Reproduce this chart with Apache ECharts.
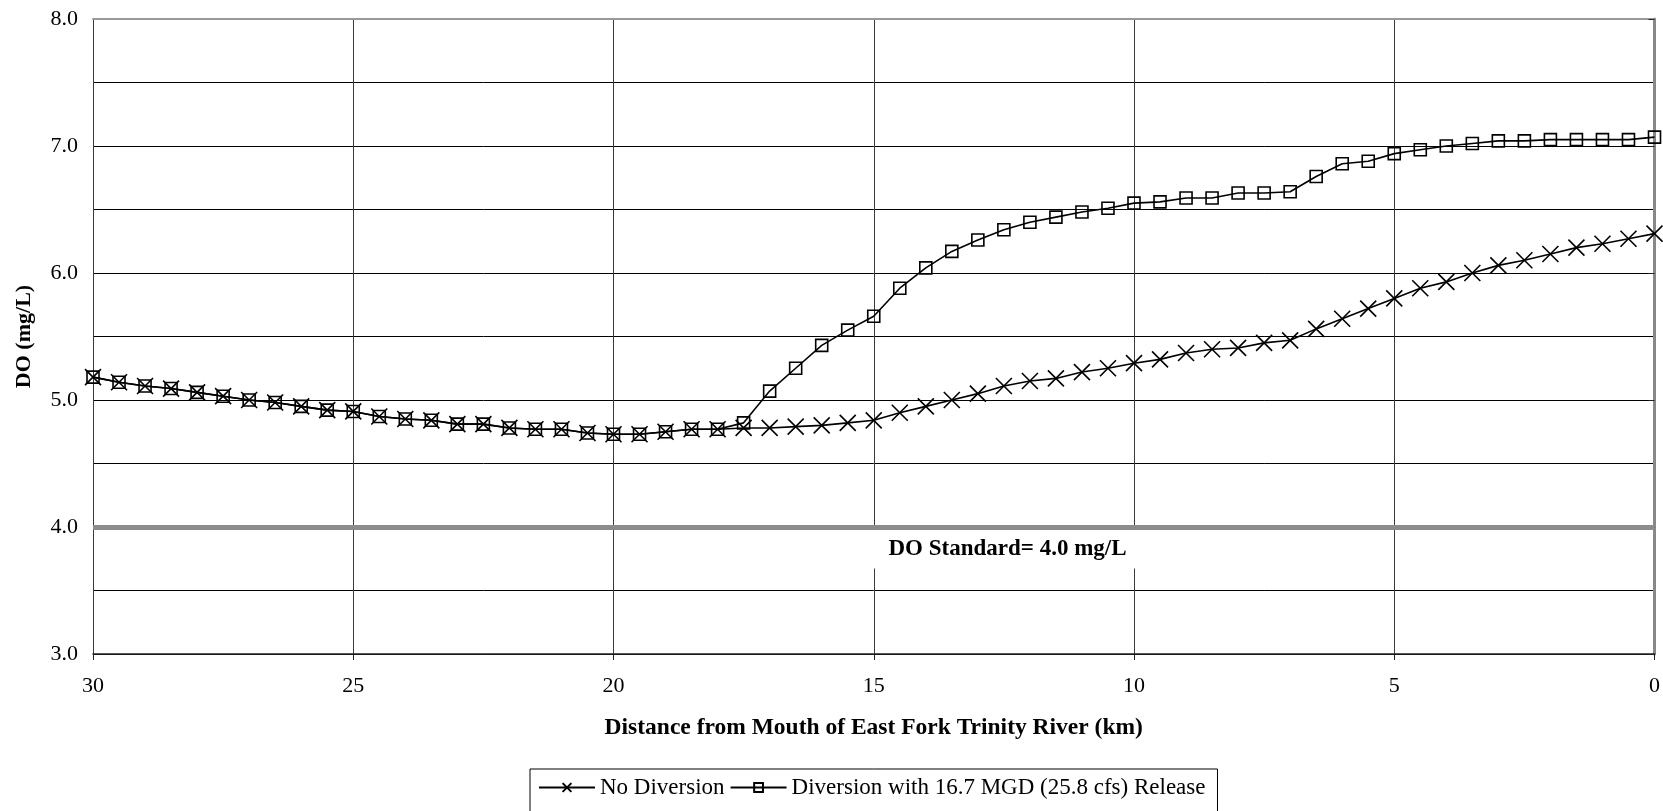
<!DOCTYPE html>
<html><head><meta charset="utf-8">
<script src="https://cdn.jsdelivr.net/npm/echarts@6/dist/echarts.min.js"></script>
<style>html,body{margin:0;padding:0;background:#fff}#c{width:1663px;height:811px}</style>
</head><body><div id="c"></div>
<script>
const distances = [30,29.5,29,28.5,28,27.5,27,26.5,26,25.5,25,24.5,24,23.5,23,22.5,22,21.5,21,20.5,20,19.5,19,18.5,18,17.5,17,16.5,16,15.5,15,14.5,14,13.5,13,12.5,12,11.5,11,10.5,10,9.5,9,8.5,8,7.5,7,6.5,6,5.5,5,4.5,4,3.5,3,2.5,2,1.5,1,0.5,0];
const noDiversion = [5.18,5.14,5.11,5.09,5.06,5.03,5.00,4.98,4.95,4.92,4.91,4.87,4.85,4.84,4.81,4.81,4.78,4.77,4.77,4.74,4.73,4.73,4.75,4.77,4.77,4.78,4.78,4.79,4.80,4.82,4.84,4.90,4.95,5.00,5.05,5.11,5.15,5.17,5.22,5.25,5.29,5.32,5.37,5.40,5.41,5.45,5.47,5.56,5.64,5.72,5.80,5.88,5.93,6.00,6.06,6.10,6.15,6.20,6.23,6.27,6.31];
const diversion = [5.18,5.14,5.11,5.09,5.06,5.03,5.00,4.98,4.95,4.92,4.91,4.87,4.85,4.84,4.81,4.81,4.78,4.77,4.77,4.74,4.73,4.73,4.75,4.77,4.77,4.82,5.07,5.25,5.43,5.55,5.66,5.88,6.04,6.17,6.26,6.34,6.40,6.44,6.48,6.51,6.55,6.56,6.59,6.59,6.63,6.63,6.64,6.76,6.86,6.88,6.94,6.97,7.00,7.02,7.04,7.04,7.05,7.05,7.05,7.05,7.07];
const seriesNames = ['No Diversion','Diversion with 16.7 MGD (25.8 cfs) Release'];
const doStandard = 4.0;
const standardLabel = 'DO Standard= 4.0 mg/L';
const standardLabelPos = [12.43, 3.83];
const xTitle = 'Distance from Mouth of East Fork Trinity River (km)';
const yTitle = 'DO (mg/L)';

const FONT = '"Liberation Serif", "Times New Roman", serif';
const pairs = arr => distances.map((d,i)=>[d, arr[i]]);
const chart = echarts.init(document.getElementById('c'), null, {renderer:'canvas'});
const crossPath = 'path://M0,0L10,10M10,0L0,10';
chart.setOption({
  animation:false,
  backgroundColor:'#fff',
  textStyle:{fontFamily:FONT},
  grid:{left:93, right:8, top:19, bottom:157, containLabel:false},
  xAxis:[{
    type:'value', inverse:true, min:0, max:30, interval:5,
    name:xTitle, nameLocation:'middle', nameGap:62,
    nameTextStyle:{fontFamily:FONT, fontWeight:'bold', fontSize:23.5, color:'#000'},
    axisLine:{show:true, onZero:false, lineStyle:{color:'#222', width:1.5}},
    axisTick:{show:true, length:6, lineStyle:{color:'#222'}},
    axisLabel:{fontFamily:FONT, fontSize:22, color:'#000', margin:21},
    splitLine:{show:true, lineStyle:{color:'#3a3a3a', width:1}}
  },{
    type:'value', position:'top', inverse:true, min:0, max:30, interval:5,
    axisLine:{show:true, onZero:false, lineStyle:{color:'#999', width:2}},
    axisTick:{show:false}, axisLabel:{show:false}, splitLine:{show:false}
  }],
  yAxis:[{
    type:'value', min:3, max:8, interval:1,
    name:yTitle, nameLocation:'middle', nameGap:58, nameRotate:90,
    nameTextStyle:{fontFamily:FONT, fontWeight:'bold', fontSize:22, color:'#000'},
    axisLine:{show:true, lineStyle:{color:'#222', width:1.5}},
    axisTick:{show:true, length:6, inside:false, lineStyle:{color:'#222'}},
    axisLabel:{fontFamily:FONT, fontSize:22, color:'#000', margin:15, formatter:v=>v.toFixed(1)},
    splitLine:{show:true, lineStyle:{color:'#000', width:1}},
    minorTick:{show:false, splitNumber:2},
    minorSplitLine:{show:true, lineStyle:{color:'#000', width:1}}
  },{
    type:'value', position:'right', min:3, max:8, interval:1,
    axisLine:{show:true, lineStyle:{color:'#888', width:3}},
    axisTick:{show:false}, axisLabel:{show:false}, splitLine:{show:false}
  }],
  legend:{
    left:530, top:769, orient:'horizontal',
    borderColor:'#000', borderWidth:1, padding:[7,12,20,8],
    itemWidth:56, itemHeight:11, itemGap:5,
    textStyle:{fontFamily:FONT, fontSize:23, color:'#000'},
    data:seriesNames
  },
  series:[
    {
      name:seriesNames[0], type:'line', data:pairs(noDiversion),
      symbol:crossPath, symbolSize:16,
      lineStyle:{color:'#000', width:1.6},
      itemStyle:{color:'#000', borderColor:'#000', borderWidth:1.6},
      z:3,
      markLine:{
        silent:true, symbol:['none','none'], z:10,
        lineStyle:{color:'#8c8c8c', width:5, type:'solid'},
        label:{show:false},
        data:[{yAxis:doStandard}]
      },
      markPoint:{
        symbol:'rect', symbolSize:1, itemStyle:{color:'rgba(0,0,0,0)'},
        label:{show:true, position:'inside', formatter:standardLabel, fontFamily:FONT, fontWeight:'bold', fontSize:23, lineHeight:24, color:'#000', backgroundColor:'#fff', padding:[8,16]},
        data:[{coord:standardLabelPos}]
      }
    },
    {
      name:seriesNames[1], type:'line', data:pairs(diversion),
      symbol:'rect', symbolSize:12,
      lineStyle:{color:'#000', width:1.6},
      itemStyle:{color:'rgba(255,255,255,0)', borderColor:'#000', borderWidth:1.6},
      z:4
    }
  ]
});
</script></body></html>
